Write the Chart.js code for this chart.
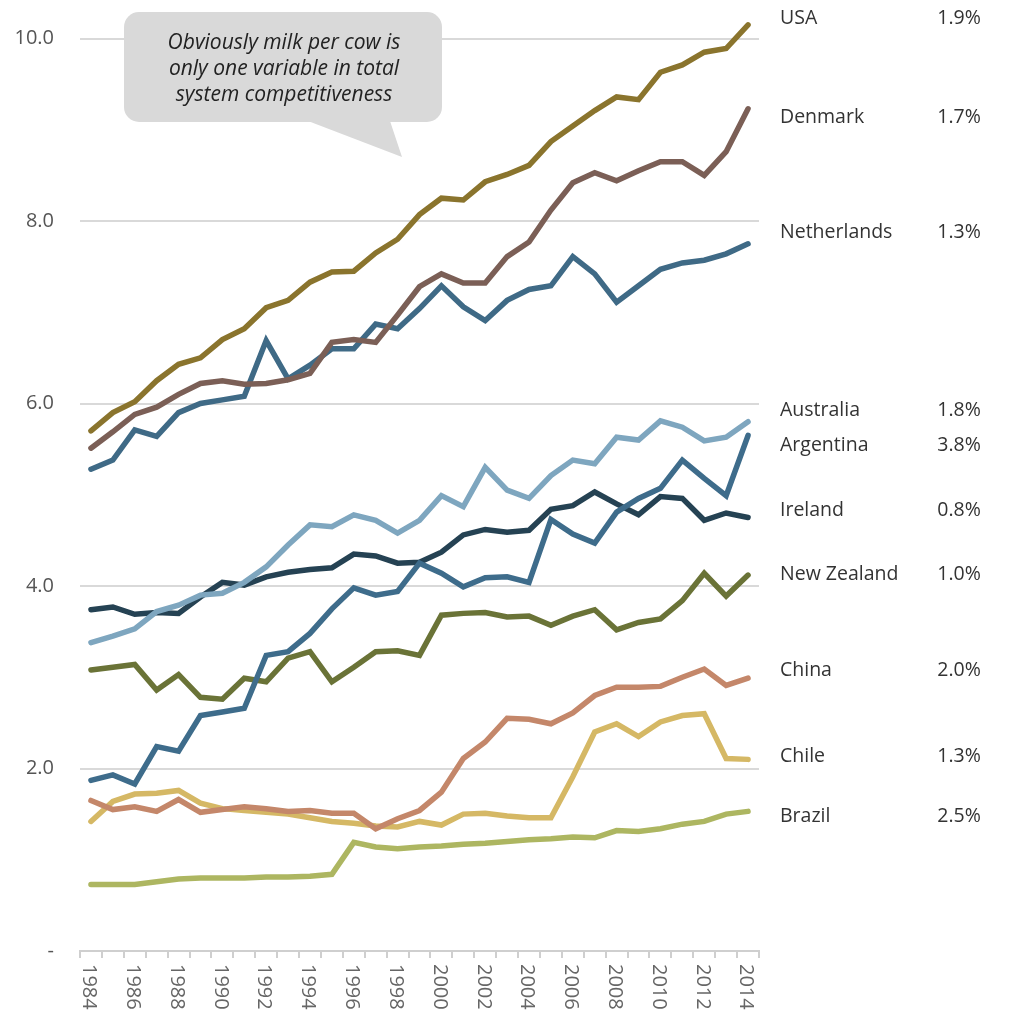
<!DOCTYPE html>
<html>
<head>
<meta charset="utf-8">
<script src="https://cdn.jsdelivr.net/npm/chart.js@4"></script>
<style>
	html, body { margin: 0; padding: 0; background: #fff; }
	canvas { display: block; }
</style>
</head>
<body>
<canvas id="milkChart" width="1025" height="1013"></canvas>
<script>
(() => {
	'use strict'

	// Milk yield per cow (tonnes / year)
	const years = [1984, 1985, 1986, 1987, 1988, 1989, 1990, 1991, 1992, 1993, 1994,
		1995, 1996, 1997, 1998, 1999, 2000, 2001, 2002, 2003, 2004,
		2005, 2006, 2007, 2008, 2009, 2010, 2011, 2012, 2013, 2014];

	const countries = ['USA', 'Denmark', 'Netherlands', 'Australia', 'Argentina',
		'Ireland', 'New Zealand', 'China', 'Chile', 'Brazil'];

	// average annual growth shown beside each name
	const growth = ['1.9%', '1.7%', '1.3%', '1.8%', '3.8%', '0.8%', '1.0%', '2.0%', '1.3%', '2.5%'];

	const usa = [5.70, 5.90, 6.02, 6.25, 6.43, 6.50, 6.70, 6.82, 7.05, 7.13, 7.33,
		7.44, 7.45, 7.65, 7.80, 8.07, 8.25, 8.23, 8.43, 8.51, 8.61,
		8.87, 9.04, 9.21, 9.36, 9.33, 9.63, 9.71, 9.85, 9.89, 10.15];
	const denmark = [5.51, 5.69, 5.88, 5.96, 6.10, 6.22, 6.25, 6.21, 6.22, 6.26, 6.33,
		6.67, 6.70, 6.67, 6.97, 7.28, 7.42, 7.32, 7.32, 7.61, 7.77,
		8.12, 8.42, 8.53, 8.44, 8.55, 8.65, 8.65, 8.50, 8.76, 9.23];
	const netherlands = [5.28, 5.38, 5.71, 5.64, 5.90, 6.00, 6.04, 6.08, 6.69, 6.27, 6.42,
		6.60, 6.60, 6.87, 6.82, 7.04, 7.29, 7.06, 6.91, 7.13, 7.25,
		7.29, 7.61, 7.42, 7.11, 7.29, 7.47, 7.54, 7.57, 7.64, 7.75];
	const australia = [3.38, 3.45, 3.53, 3.72, 3.79, 3.90, 3.92, 4.04, 4.21, 4.45, 4.67,
		4.65, 4.78, 4.72, 4.58, 4.72, 4.99, 4.87, 5.30, 5.05, 4.96,
		5.21, 5.38, 5.34, 5.63, 5.60, 5.81, 5.74, 5.59, 5.63, 5.80];
	const argentina = [1.87, 1.93, 1.83, 2.24, 2.19, 2.58, 2.62, 2.66, 3.24, 3.28, 3.48,
		3.75, 3.98, 3.90, 3.94, 4.25, 4.14, 3.99, 4.09, 4.10, 4.04,
		4.73, 4.57, 4.47, 4.81, 4.96, 5.07, 5.38, 5.18, 4.99, 5.65];
	const ireland = [3.74, 3.77, 3.69, 3.71, 3.70, 3.88, 4.04, 4.01, 4.10, 4.15, 4.18,
		4.20, 4.35, 4.33, 4.25, 4.26, 4.37, 4.56, 4.62, 4.59, 4.61,
		4.84, 4.88, 5.03, 4.90, 4.78, 4.98, 4.96, 4.72, 4.80, 4.75];
	const newZealand = [3.08, 3.11, 3.14, 2.86, 3.03, 2.78, 2.76, 2.99, 2.95, 3.21, 3.28,
		2.95, 3.11, 3.28, 3.29, 3.24, 3.68, 3.70, 3.71, 3.66, 3.67,
		3.57, 3.67, 3.74, 3.52, 3.60, 3.64, 3.84, 4.14, 3.89, 4.12];
	const china = [1.65, 1.55, 1.58, 1.53, 1.66, 1.52, 1.55, 1.58, 1.56, 1.53, 1.54,
		1.51, 1.51, 1.34, 1.45, 1.54, 1.74, 2.11, 2.29, 2.55, 2.54,
		2.49, 2.61, 2.80, 2.89, 2.89, 2.90, 3.00, 3.09, 2.91, 2.99];
	const chile = [1.42, 1.64, 1.72, 1.73, 1.76, 1.62, 1.56, 1.54, 1.52, 1.50, 1.46,
		1.42, 1.40, 1.37, 1.36, 1.42, 1.38, 1.50, 1.51, 1.48, 1.46,
		1.46, 1.91, 2.40, 2.49, 2.35, 2.51, 2.58, 2.60, 2.11, 2.10];
	const brazil = [0.73, 0.73, 0.73, 0.76, 0.79, 0.80, 0.80, 0.80, 0.81, 0.81, 0.82,
		0.84, 1.19, 1.14, 1.12, 1.14, 1.15, 1.17, 1.18, 1.20, 1.22,
		1.23, 1.25, 1.24, 1.32, 1.31, 1.34, 1.39, 1.42, 1.50, 1.53];

	const series = [usa, denmark, netherlands, australia, argentina, ireland, newZealand, china, chile, brazil];

	const colors = ['#8a742d', '#7b5f56', '#3f6a86', '#7ea6bf', '#3e6c8b',
		'#254253', '#6a7337', '#c4876a', '#d5b865', '#adb661'];

	// where each name sits on the value axis (spread out so they don't collide)
	const labelAt = [10.16, 9.07, 7.81, 5.86, 5.48, 4.77, 4.07, 3.01, 2.07, 1.41];

	const fontFamily = '"Open Sans", "Noto Sans", sans-serif';

	const datasets = countries.map((name, i) => ({
		label: name,
		data: series[i],
		borderColor: colors[i],
		backgroundColor: colors[i],
		borderWidth: 5.5,
		pointRadius: 0,
		tension: 0,
		borderCapStyle: 'round',
		borderJoinStyle: 'miter',
		fill: false
	}));

	/******************** Custom drawing Start ********************/
	const decorations = {
		id: 'decorations',
		afterDraw(chart) {
			const ctx = chart.ctx;
			const xScale = chart.scales.x;
			const yScale = chart.scales.y;

			ctx.save();

			// year labels, every second year, turned to read downwards
			ctx.fillStyle = '#666';
			ctx.font = '20px ' + fontFamily;
			ctx.textAlign = 'left';
			ctx.textBaseline = 'middle';
			years.forEach((yr, i) => {
				if (i % 2 !== 0) return;
				const x = xScale.getPixelForValue(i) - 2;
				ctx.save();
				ctx.translate(x, xScale.top + 13);
				ctx.rotate(Math.PI / 2);
				ctx.fillText(String(yr), 0, 0);
				ctx.restore();
			});

			// country names with growth rates on the right
			ctx.fillStyle = '#333';
			ctx.font = '19.5px ' + fontFamily;
			ctx.textBaseline = 'alphabetic';
			countries.forEach((name, i) => {
				const y = yScale.getPixelForValue(labelAt[i]);
				ctx.textAlign = 'left';
				ctx.fillText(name, 780, y);
				ctx.textAlign = 'center';
				ctx.fillText(growth[i], 959, y);
			});

			// speech bubble note
			ctx.fillStyle = '#d9d9d9';
			ctx.beginPath();
			ctx.roundRect(124, 12, 318, 110, 15);
			ctx.fill();
			ctx.beginPath();
			ctx.moveTo(308, 121);
			ctx.lineTo(390, 121);
			ctx.lineTo(402, 157);
			ctx.closePath();
			ctx.fill();

			ctx.fillStyle = '#222';
			ctx.font = 'italic 21px ' + fontFamily;
			ctx.textAlign = 'center';
			const note = ['Obviously milk per cow is', 'only one variable in total', 'system competitiveness'];
			note.forEach((line, i) => {
				ctx.fillText(line, 284, 49 + i * 26);
			});

			ctx.restore();
		}
	};
	/******************** Custom drawing End ********************/

	const config = {
		type: 'line',
		data: {
			labels: years.map(String),
			datasets: datasets
		},
		options: {
			responsive: false,
			animation: false,
			layout: {
				autoPadding: false,
				padding: { top: 2, right: 266, left: 0, bottom: 0 }
			},
			plugins: {
				legend: { display: false },
				title: { display: false },
				tooltip: { enabled: false }
			},
			scales: {
				x: {
					type: 'category',
					offset: true,
					grid: {
						offset: true,
						drawOnChartArea: false,
						drawTicks: true,
						tickLength: 7,
						color: '#cfcfcf',
						lineWidth: 2
					},
					border: { display: true, color: '#cfcfcf', width: 2 },
					ticks: { display: false, autoSkip: false },
					afterFit: (scale) => {
						scale.height = 62;
						scale.paddingLeft = 0;
						scale.paddingRight = 0;
					}
				},
				y: {
					min: 0,
					max: 10.4,
					grid: {
						color: '#d9d9d9',
						lineWidth: 2,
						drawTicks: false
					},
					border: { display: false },
					ticks: {
						stepSize: 2,
						padding: 26,
						color: '#555',
						font: { family: fontFamily, size: 20 },
						callback: (v) => v === 0 ? '-' : v.toFixed(1)
					},
					afterBuildTicks: (scale) => {
						scale.ticks = scale.ticks.filter((t) => t.value % 2 === 0);
					},
					afterFit: (scale) => {
						scale.width = 80;
						// keep the plot flush with the top edge
						scale.paddingTop = 0;
						scale.paddingBottom = 0;
					}
				}
			}
		},
		plugins: [decorations]
	};

	const milkChart = new Chart(document.getElementById('milkChart'), config);
})()
</script>
</body>
</html>
